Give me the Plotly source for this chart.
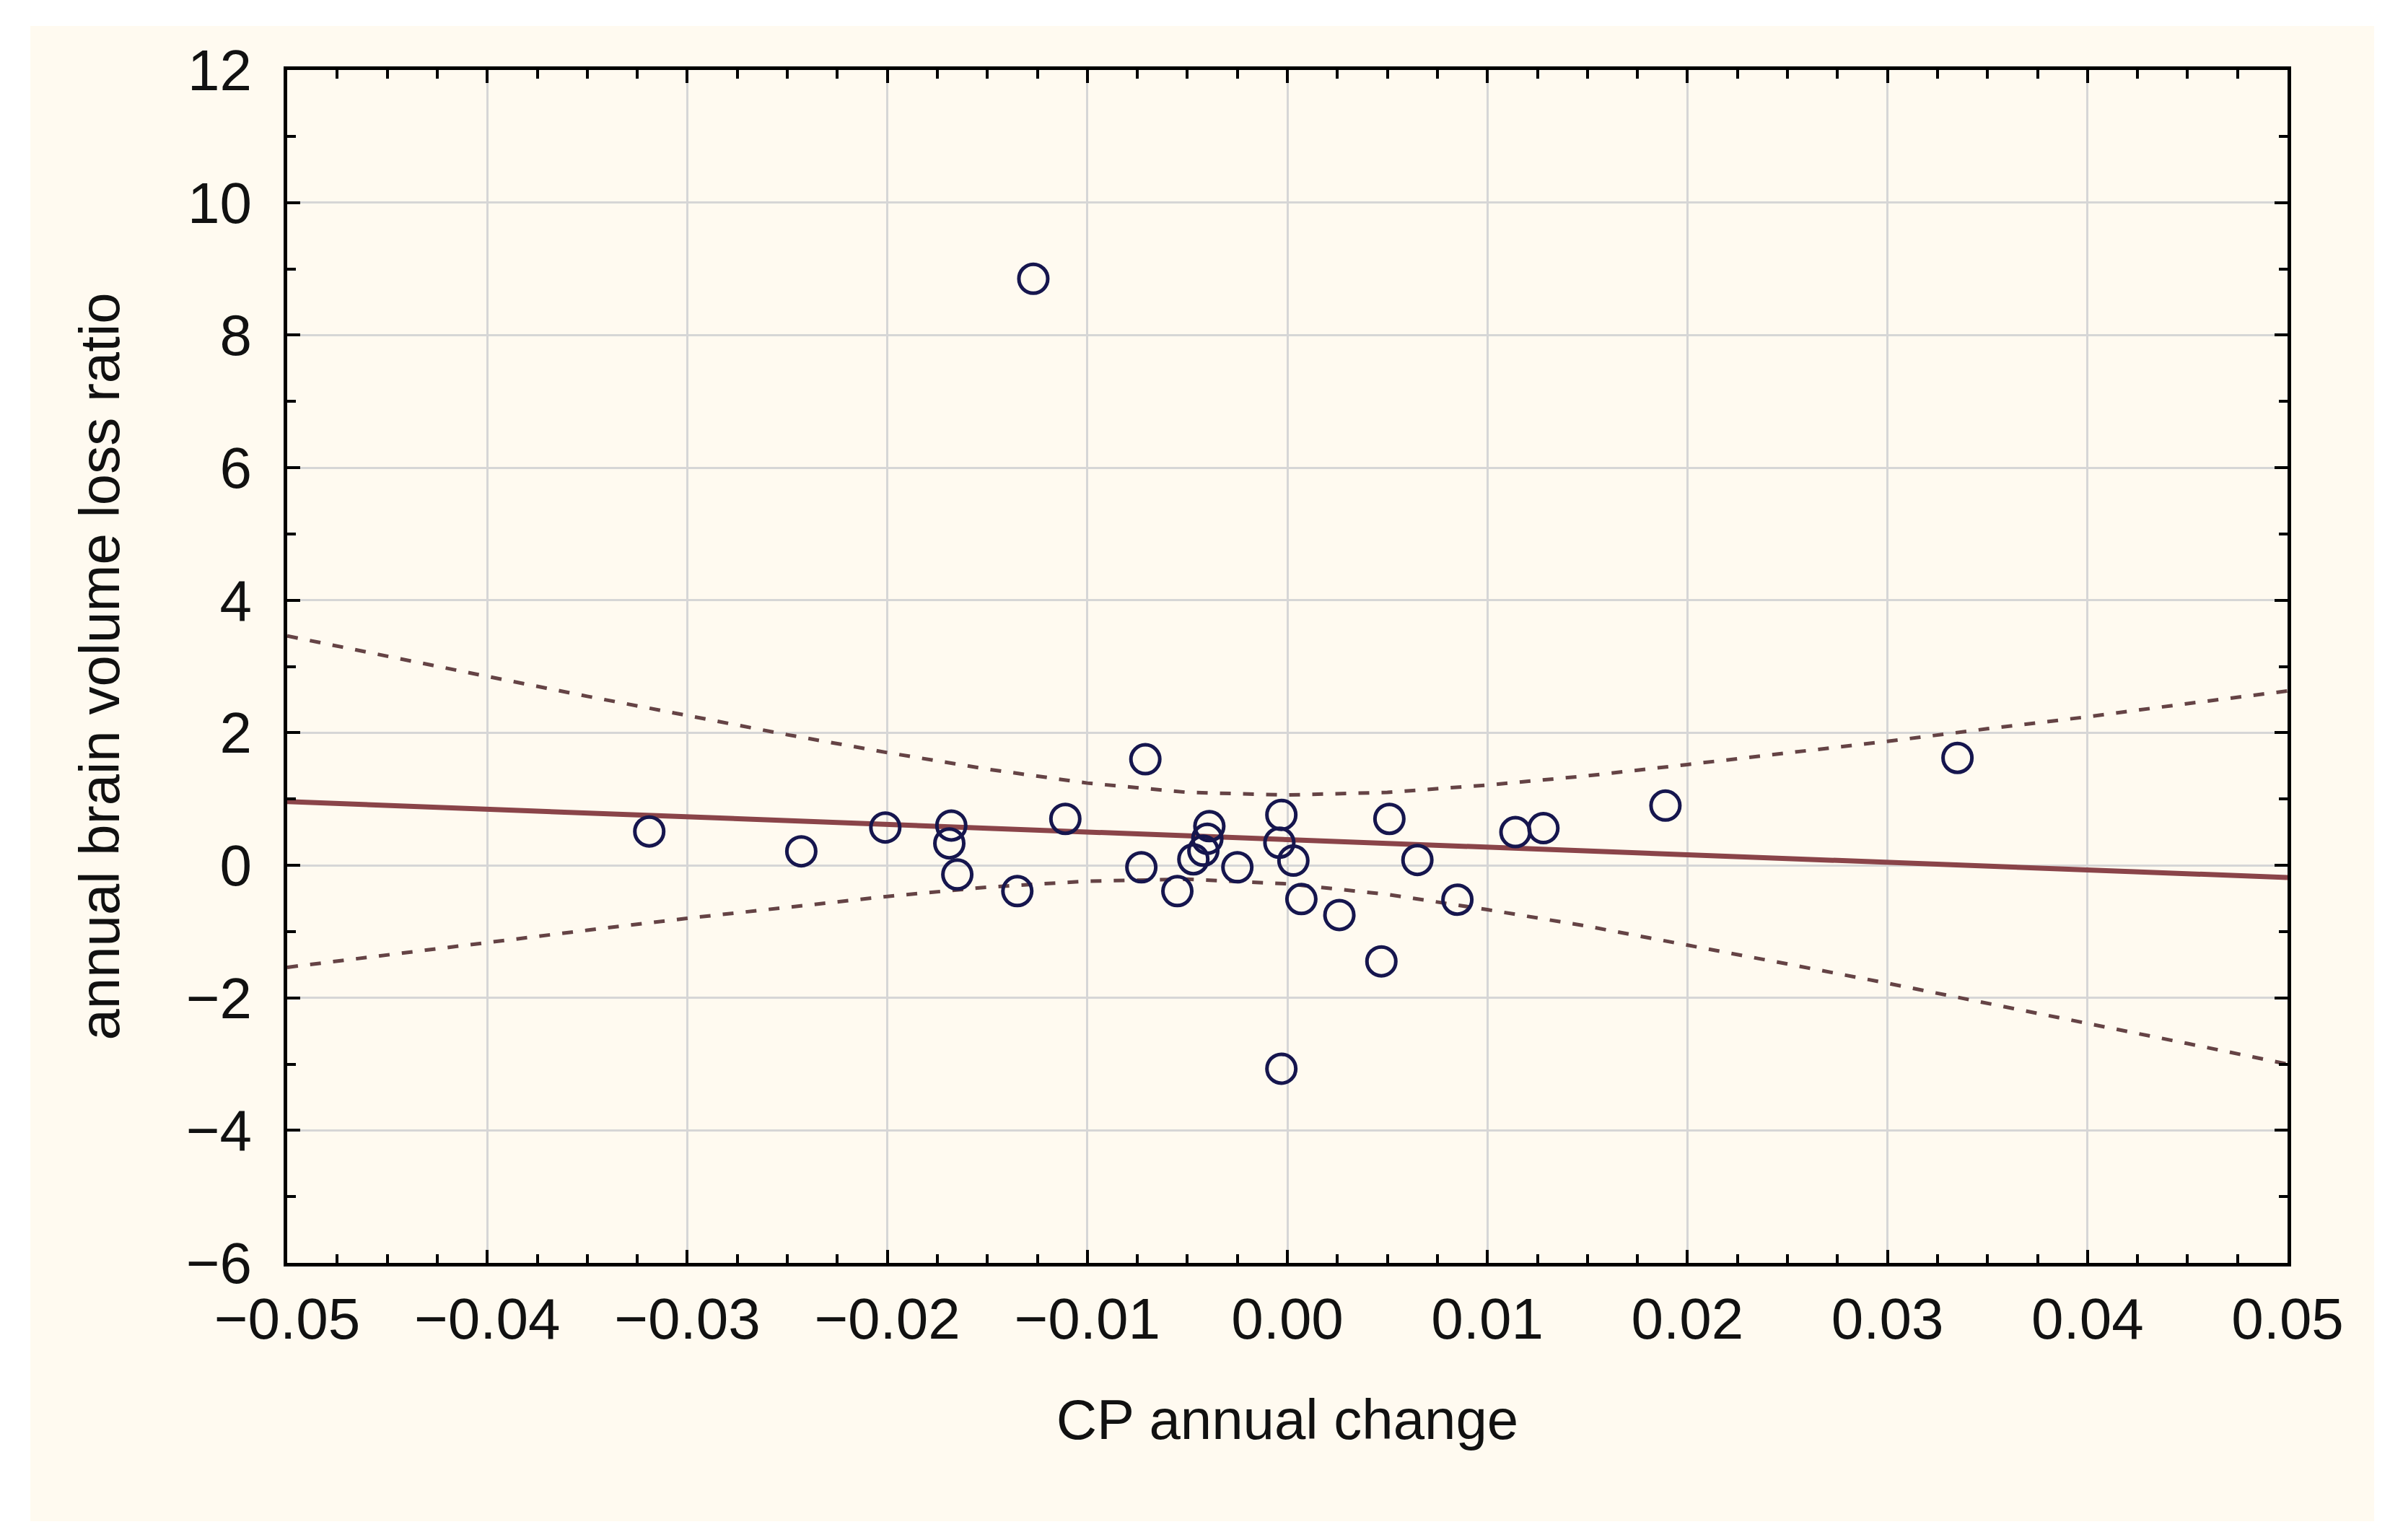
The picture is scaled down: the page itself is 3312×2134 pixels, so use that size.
import plotly.graph_objects as go

# Observed points
cp_change = [-0.0319, -0.0243, -0.0201, -0.0168, -0.0169, -0.0165, -0.0135, -0.0127,
             -0.0111, -0.0071, -0.0073, -0.0055, -0.0047, -0.0042, -0.0040, -0.0039,
             -0.0025, -0.0003, -0.0004, 0.0003, 0.0007, 0.0026, -0.0003, 0.0047,
             0.0051, 0.0065, 0.0085, 0.0114, 0.0128, 0.0189, 0.0335]
bv_loss = [0.51, 0.21, 0.57, 0.60, 0.33, -0.14, -0.39, 8.85,
           0.70, 1.60, -0.03, -0.39, 0.09, 0.22, 0.40, 0.59,
           -0.03, 0.76, 0.34, 0.07, -0.51, -0.75, -3.07, -1.45,
           0.70, 0.08, -0.52, 0.50, 0.56, 0.90, 1.62]

# Regression line (read at the axis ends)
fit_x = [-0.05, 0.05]
fit_y = [0.96, -0.185]

# Confidence band
band_x = [-0.05, -0.045, -0.04, -0.035, -0.03, -0.025, -0.02, -0.015, -0.01, -0.005, 0.0,
          0.005, 0.01, 0.015, 0.02, 0.025, 0.03, 0.035, 0.04, 0.045, 0.05]
band_upper = [3.46, 3.15, 2.85, 2.55, 2.26, 1.97, 1.70, 1.45, 1.24, 1.10, 1.06,
              1.10, 1.21, 1.35, 1.52, 1.69, 1.87, 2.06, 2.24, 2.44, 2.63]
band_lower = [-1.54, -1.35, -1.16, -0.98, -0.80, -0.63, -0.47, -0.33, -0.24, -0.21, -0.28,
              -0.44, -0.67, -0.92, -1.20, -1.49, -1.78, -2.08, -2.39, -2.69, -3.00]

x_ticks = [-0.05, -0.04, -0.03, -0.02, -0.01, 0.0, 0.01, 0.02, 0.03, 0.04, 0.05]
x_tick_text = ["\u22120.05", "\u22120.04", "\u22120.03", "\u22120.02", "\u22120.01", "0.00",
               "0.01", "0.02", "0.03", "0.04", "0.05"]
y_ticks = [-6, -4, -2, 0, 2, 4, 6, 8, 10, 12]
y_tick_text = ["\u22126", "\u22124", "\u22122", "0", "2", "4", "6", "8", "10", "12"]

W, H = 3312, 2134
ML, MR, MT, MB = 390, 150, 89, 392
PW, PH = W - ML - MR, H - MT - MB
FONT = "Liberation Sans, Arial, sans-serif"

fig = go.Figure()
fig.add_trace(go.Scatter(x=band_x, y=band_upper, mode="lines",
                         line=dict(color="#654345", width=5, dash="15px,17px"),
                         hoverinfo="skip"))
fig.add_trace(go.Scatter(x=band_x, y=band_lower, mode="lines",
                         line=dict(color="#654345", width=5, dash="15px,17px"),
                         hoverinfo="skip"))
fig.add_trace(go.Scatter(x=fit_x, y=fit_y, mode="lines",
                         line=dict(color="#8a4449", width=7)))
fig.add_trace(go.Scatter(x=cp_change, y=bv_loss, mode="markers",
                         marker=dict(symbol="circle-open", size=40,
                                     color="#16164e", line=dict(width=5, color="#16164e"))))

# cream backdrop behind the whole chart
fig.add_shape(type="rect", xref="paper", yref="paper",
              x0=(34 - ML) / PW, x1=(3282 - ML) / PW,
              y0=(H - MB - 2100) / PH, y1=(H - MB - 28) / PH,
              fillcolor="#fffaf0", line=dict(width=0), layer="below")

axis_common = dict(
    showline=True, linecolor="black", linewidth=5, mirror="ticks",
    ticks="inside", ticklen=18, tickwidth=4, tickcolor="black",
    showgrid=True, gridcolor="#d6d6d6", gridwidth=3, zeroline=False,
    tickfont=dict(family=FONT, size=80, color="#111111"),
)

fig.update_layout(
    width=W, height=H,
    margin=dict(l=ML, r=MR, t=MT, b=MB),
    paper_bgcolor="white", plot_bgcolor="white",
    showlegend=False,
    font=dict(family=FONT, color="#111111"),
    xaxis=dict(range=[-0.05, 0.05], tickvals=x_ticks, ticktext=x_tick_text,
               ticklabelstandoff=4,
               minor=dict(dtick=0.0025, tick0=0, ticks="inside", ticklen=12,
                          tickwidth=4, tickcolor="black", showgrid=False),
               title=dict(text="CP annual change", standoff=70,
                          font=dict(family=FONT, size=78, color="#111111")),
               **axis_common),
    yaxis=dict(range=[-6, 12], tickvals=y_ticks, ticktext=y_tick_text,
               ticklabelstandoff=28,
               minor=dict(dtick=1, tick0=0, ticks="inside", ticklen=12,
                          tickwidth=4, tickcolor="black", showgrid=False),
               title=dict(text="annual brain volume loss ratio", standoff=68,
                          font=dict(family=FONT, size=78, color="#111111")),
               **axis_common),
)

fig.write_html("out.html")
